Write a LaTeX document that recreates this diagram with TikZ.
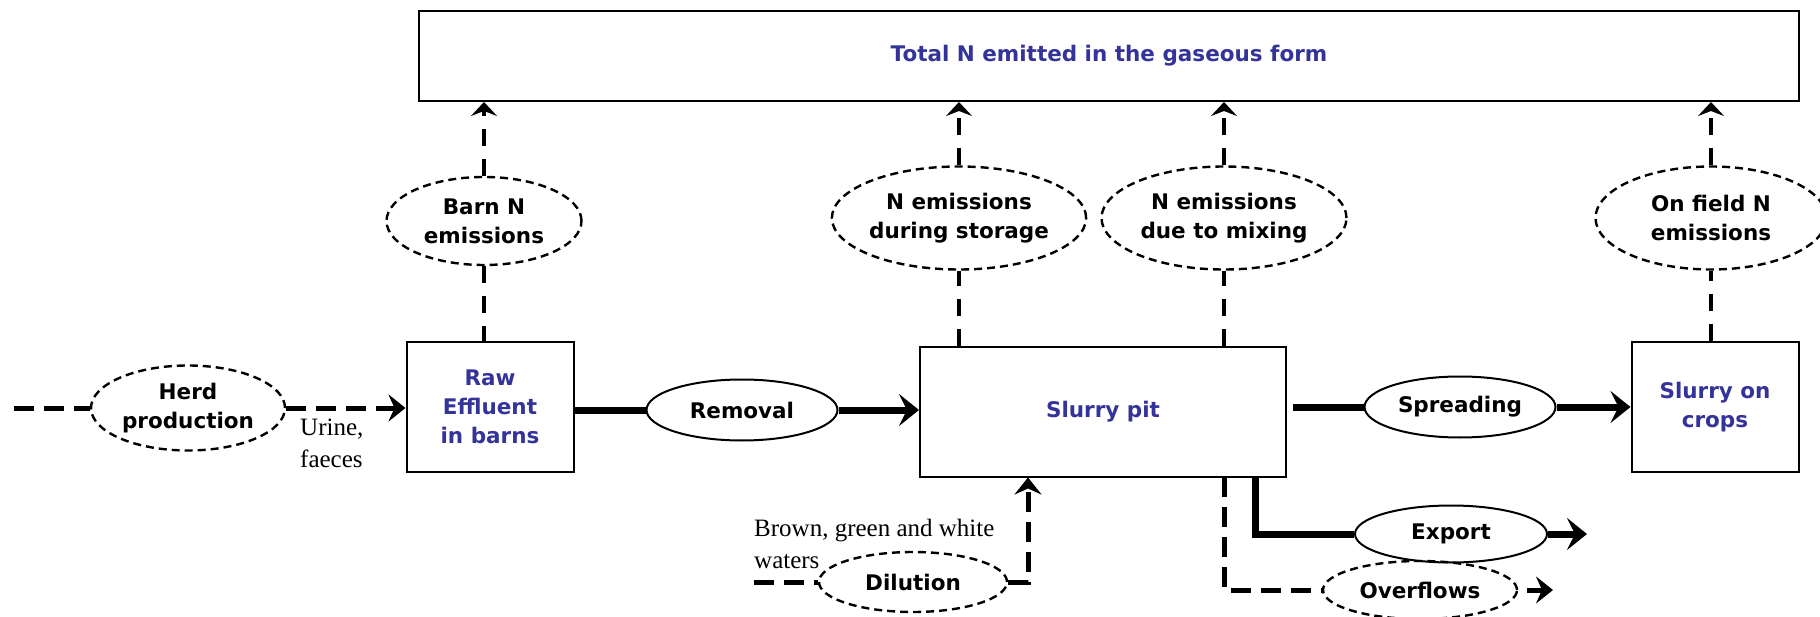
\documentclass[tikz,border=0pt]{standalone}
\usepackage{fontspec}
\setmainfont{Liberation Serif}
\newfontfamily\comicfont{DejaVu Sans}
\usetikzlibrary{shapes.geometric,arrows.meta}
\definecolor{labblue}{RGB}{51,51,153}
\begin{document}
\begin{tikzpicture}[x=1pt,y=-1pt,
  lab/.style={font=\comicfont\bfseries\fontsize{21.5}{29}\selectfont, align=center, text=black},
  bluelab/.style={lab, text=labblue},
  serif/.style={font=\fontsize{25}{32}\selectfont, align=left, inner sep=0pt},
  boxn/.style={draw, line width=2pt, rectangle, inner sep=0pt},
  ell/.style={ellipse, draw, line width=2pt, inner sep=0pt, lab},
  dell/.style={ell, line width=2.4pt, dash pattern=on 8pt off 5pt},
  thickline/.style={line width=7pt},
  thickarrow/.style={thickline, -{Stealth[length=20pt,width=32pt,inset=8pt]}},
  dline/.style={line width=5pt, dash pattern=on 20pt off 10pt},
  darrow/.style={dline, -{Stealth[length=17pt,width=27pt,inset=6pt]}},
  vline/.style={line width=4pt, dash pattern=on 17pt off 13pt},
  varrow/.style={vline, -{Stealth[length=14pt,width=26pt,inset=5pt]}}]
\useasboundingbox (0,0) rectangle (1820,617);

% nodes
\node[boxn, bluelab, minimum width=1380pt, minimum height=90pt] (top) at (1109,56) {Total N emitted in the gaseous form};
\node[dell, minimum width=195pt, minimum height=88pt] (barn) at (484,221) {Barn N\\emissions};
\node[dell, minimum width=244pt, minimum height=103pt] (stor) at (959,218) {N emissions\\during storage};
\node[dell, minimum width=245pt, minimum height=103pt] (mix) at (1224,218) {N emissions\\due to mixing};
\node[dell, minimum width=231pt, minimum height=103pt] (field) at (1711,218) {On field N\\emissions};
\node[dell, minimum width=194pt, minimum height=85pt] (herd) at (188,408) {Herd\\production};
\node[boxn, bluelab, minimum width=167pt, minimum height=129pt] (raw) at (490,407) {Raw\\Effluent\\in barns};
\node[ell, minimum width=191pt, minimum height=61pt] (rem) at (742,410) {Removal};
\node[boxn, bluelab, minimum width=366pt, minimum height=129pt] (pit) at (1103,412) {Slurry pit};
\node[ell, minimum width=191pt, minimum height=61pt] (spr) at (1460,407) {Spreading};
\node[boxn, bluelab, minimum width=167pt, minimum height=129pt] (crops) at (1715,407) {Slurry on\\crops};
\node[ell, minimum width=192pt, minimum height=57pt] (exp) at (1451,534) {Export};
\node[dell, minimum width=194pt, minimum height=58pt] (over) at (1420,590) {Overflows};
\node[dell, minimum width=188pt, minimum height=60pt] (dil) at (913,582) {Dilution};
\node[serif, anchor=west] (urine) at (300,443) {Urine,\\faeces};
\node[serif, anchor=west] (brown) at (754,544) {Brown, green and white\\waters};

% coordinates for free ends
\coordinate (hs) at (14,408);
\coordinate (sp0) at (1293,407);
\coordinate (ex0) at (1255,477);
\coordinate (exend) at (1587,534);
\coordinate (ov0) at (1224,477);
\coordinate (ovst) at (1527,590);
\coordinate (ovend) at (1553,590);
\coordinate (dl0) at (754,582);
\coordinate (dlc) at (1028,582);

% main chain
\draw[dline] (hs) -- (herd.west);
\draw[darrow] (herd.east) -- (herd.east -| raw.west);
\draw[thickline] (raw.east |- rem.west) -- (rem.west);
\draw[thickarrow] (rem.east) -- (rem.east -| pit.west);
\draw[thickline] (sp0) -- (spr.west);
\draw[thickarrow] (spr.east) -- (spr.east -| crops.west);

% emissions
\draw[vline] (barn.south) -- (barn.south |- raw.north);
\draw[varrow] (barn.north) -- (barn.north |- top.south);
\draw[vline] (stor.south |- pit.north) -- (stor.south);
\draw[varrow] (stor.north) -- (stor.north |- top.south);
\draw[vline] (mix.south |- pit.north) -- (mix.south);
\draw[varrow] (mix.north) -- (mix.north |- top.south);
\draw[vline] (field.south |- crops.north) -- (field.south);
\draw[varrow] (field.north) -- (field.north |- top.south);

% outputs from pit
\draw[thickline] (ex0) |- (exp.west);
\draw[thickarrow] (exp.east) -- (exend);
\draw[dline] (ov0) |- (over.west);
\draw[darrow] (ovst) -- (ovend);

% dilution
\draw[dline] (dl0) -- (dil.west);
\draw[darrow] (dil.east) -- (dlc) -- (dlc |- pit.south);
\end{tikzpicture}
\end{document}
